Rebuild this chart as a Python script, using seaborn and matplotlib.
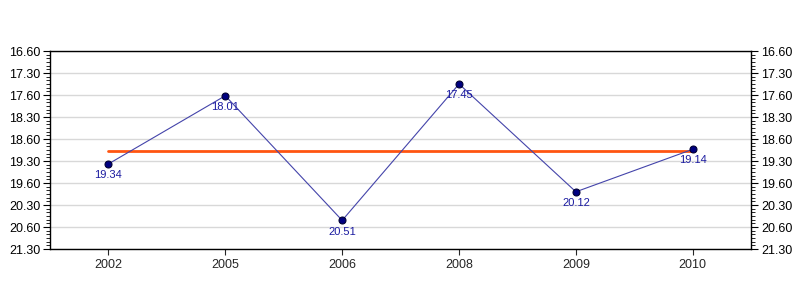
import matplotlib
matplotlib.use("Agg")
import matplotlib.pyplot as plt
import seaborn as sns
import pandas as pd
import numpy as np
from matplotlib.ticker import FixedLocator, MultipleLocator

years = ["2002", "2005", "2006", "2008", "2009", "2010"]
values = ["19.34", "18.01", "20.51", "17.45", "20.12", "19.14"]  # mm.ss
tick_labels = ["16.60", "17.30", "17.60", "18.30", "18.60",
               "19.30", "19.60", "20.30", "20.60", "21.30"]


def to_sec(s):
    m, ss = s.split(".")
    return int(m) * 60 + int(ss)


secs = [to_sec(v) for v in values]
tick_secs = [to_sec(t) for t in tick_labels]
df = pd.DataFrame({"year": years, "sec": secs, "label": values})
mean_val = float(np.mean(secs))

sns.set_style("white")
plt.rcParams["font.family"] = ["Liberation Sans", "DejaVu Sans"]

fig = plt.figure(figsize=(8, 3), dpi=100)
ax = fig.add_axes([0.0625, 0.17, 0.8765, 0.66])

ax.set_ylim(max(tick_secs), min(tick_secs))
for t in tick_secs:
    ax.axhline(t, color="#d8d8d8", lw=1, zorder=0)

sns.lineplot(data=df, x="year", y="sec", ax=ax, color="#4444aa", lw=0.8,
             marker="o", markersize=5, markerfacecolor="#000080",
             markeredgecolor="#000033", markeredgewidth=0.8, zorder=3)
ax.plot([0, len(years) - 1], [mean_val, mean_val], color="#ff5511", lw=2, zorder=2)

for i, (s, lab) in enumerate(zip(secs, values)):
    ax.annotate(lab, (i, s), xytext=(0, -8), textcoords="offset points",
                ha="center", va="center", fontsize=8, color="#1a1aa0", zorder=4)

ax.set_xlim(-0.5, len(years) - 0.5)
ax.yaxis.set_major_locator(FixedLocator(tick_secs))
ax.set_yticklabels(tick_labels)
ax.yaxis.set_minor_locator(MultipleLocator(5))
ax.tick_params(axis="y", which="both", left=True, right=True, labelleft=True,
               labelright=True, direction="out", labelsize=9, colors="black", pad=2)
ax.tick_params(axis="y", which="major", length=5, width=0.8)
ax.tick_params(axis="y", which="minor", length=3, width=0.6)
ax.tick_params(axis="x", bottom=True, direction="out", length=4, width=0.8, labelsize=9)
ax.set_xlabel("")
ax.set_ylabel("")
for sp in ax.spines.values():
    sp.set_visible(True)
    sp.set_color("black")
    sp.set_linewidth(1)

fig.savefig("out.png", dpi=100)
